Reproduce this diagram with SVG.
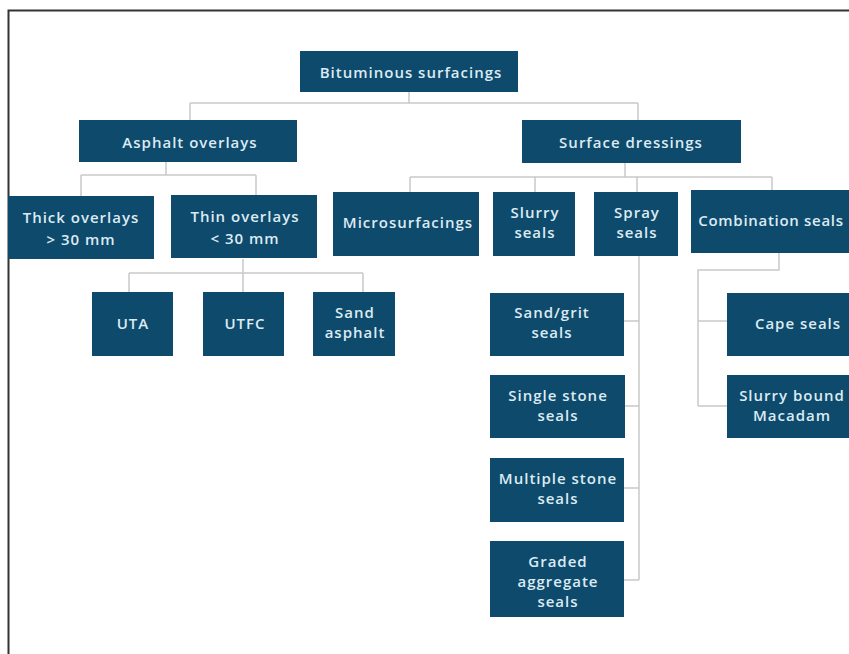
<svg xmlns="http://www.w3.org/2000/svg" width="849" height="654" viewBox="0 0 849 654">
<style>
.b{fill:#0e4a6b}
.t{font-family:"Open Sans","Liberation Sans",sans-serif;font-weight:600;font-size:15px;fill:#dcebf3;text-anchor:middle;letter-spacing:1px}
.c{fill:none;stroke:#c9c9c9;stroke-width:1.5}
</style>
<rect width="849" height="654" fill="#fff"/>
<path d="M8.5 654V10.5H849" fill="none" stroke="#333" stroke-width="2"/>
<g id="connectors" class="c">
<path d="M409 92V103M190 103H638M190 103V120M638 103V120"/>
<path d="M166 162V175M81 175H256M81 175V196M256 175V196"/>
<path d="M243 259V273M129 273H363M129 273V292M243 273V292M363 273V292"/>
<path d="M625 163V177M410 177H772M410 177V192M535 177V192M637 177V192M772 177V192"/>
<path d="M639 256V580M624 321H639M625 406H639M624 488H639M624 580H639"/>
<path d="M779 253V270H698V406M698 321H727M698 406H727"/>
</g>
<g id="n-bituminous"><rect class="b" x="300" y="51" width="218" height="41"/><text class="t" x="411" y="78">Bituminous surfacings</text></g>
<g id="n-asphalt"><rect class="b" x="79" y="120" width="218" height="42"/><text class="t" x="190" y="148">Asphalt overlays</text></g>
<g id="n-surface"><rect class="b" x="522" y="120" width="219" height="43"/><text class="t" x="631" y="148">Surface dressings</text></g>
<g id="n-thick"><rect class="b" x="8" y="196" width="146" height="63"/><text class="t" x="81" y="223">Thick overlays</text><text class="t" x="81" y="245">&gt; 30 mm</text></g>
<g id="n-thin"><rect class="b" x="171" y="195" width="146" height="63"/><text class="t" x="245" y="222">Thin overlays</text><text class="t" x="245" y="244">&lt; 30 mm</text></g>
<g id="n-uta"><rect class="b" x="92" y="292" width="81" height="64"/><text class="t" x="133" y="329">UTA</text></g>
<g id="n-utfc"><rect class="b" x="203" y="292" width="81" height="64"/><text class="t" x="245" y="329">UTFC</text></g>
<g id="n-sandasphalt"><rect class="b" x="313" y="292" width="82" height="64"/><text class="t" x="355" y="318">Sand</text><text class="t" x="355" y="338">asphalt</text></g>
<g id="n-micro"><rect class="b" x="333" y="192" width="146" height="64"/><text class="t" x="408" y="228">Microsurfacings</text></g>
<g id="n-slurry"><rect class="b" x="493" y="192" width="82" height="64"/><text class="t" x="535" y="218">Slurry</text><text class="t" x="535" y="238">seals</text></g>
<g id="n-spray"><rect class="b" x="594" y="192" width="84" height="64"/><text class="t" x="637" y="218">Spray</text><text class="t" x="637" y="238">seals</text></g>
<g id="n-combination"><rect class="b" x="691" y="190" width="170" height="63"/><text class="t" x="771" y="226" style="letter-spacing:0.7px">Combination seals</text></g>
<g id="n-sandgrit"><rect class="b" x="490" y="293" width="134" height="63"/><text class="t" x="552" y="318">Sand/grit</text><text class="t" x="552" y="338">seals</text></g>
<g id="n-single"><rect class="b" x="490" y="375" width="135" height="63"/><text class="t" x="558" y="401">Single stone</text><text class="t" x="558" y="421">seals</text></g>
<g id="n-multiple"><rect class="b" x="490" y="458" width="134" height="64"/><text class="t" x="558" y="484">Multiple stone</text><text class="t" x="558" y="504">seals</text></g>
<g id="n-graded"><rect class="b" x="490" y="541" width="134" height="76"/><text class="t" x="558" y="567">Graded</text><text class="t" x="558" y="587">aggregate</text><text class="t" x="558" y="607">seals</text></g>
<g id="n-cape"><rect class="b" x="727" y="293" width="140" height="63"/><text class="t" x="798" y="329">Cape seals</text></g>
<g id="n-slurrybound"><rect class="b" x="727" y="375" width="140" height="63"/><text class="t" x="792" y="401">Slurry bound</text><text class="t" x="792" y="421">Macadam</text></g>
</svg>
